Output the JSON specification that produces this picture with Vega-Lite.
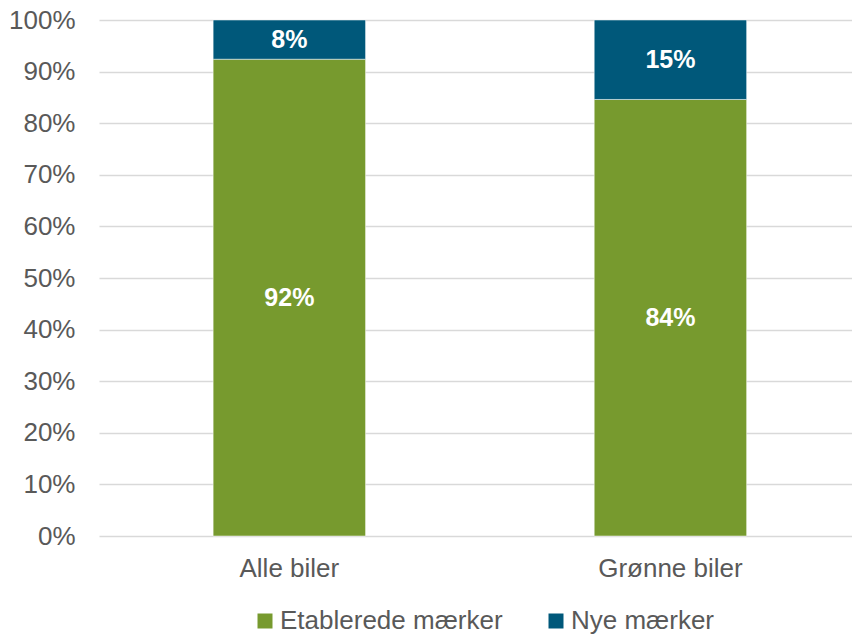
{
  "$schema": "https://vega.github.io/schema/vega-lite/v6.json",
  "width": 753,
  "height": 516,
  "autosize": {"type": "none"},
  "padding": {"left": 99, "top": 20, "right": 0, "bottom": 101},
  "background": "white",
  "config": {
    "view": {"stroke": null},
    "font": "Liberation Sans",
    "axis": {"labelFont": "Liberation Sans", "labelColor": "#595959", "labelFontSize": 26}
  },
  "data": {
    "values": [
      {"kategori": "Alle biler", "maerke": "Etablerede mærker", "andel": 0.924, "label": "92%"},
      {"kategori": "Alle biler", "maerke": "Nye mærker", "andel": 0.076, "label": "8%"},
      {"kategori": "Grønne biler", "maerke": "Etablerede mærker", "andel": 0.846, "label": "84%"},
      {"kategori": "Grønne biler", "maerke": "Nye mærker", "andel": 0.154, "label": "15%"}
    ]
  },
  "encoding": {
    "x": {
      "field": "kategori",
      "type": "nominal",
      "sort": ["Alle biler", "Grønne biler"],
      "scale": {"paddingInner": 0.6, "paddingOuter": 0.288, "align": 0.52},
      "axis": {"title": null, "labelAngle": 0, "ticks": false, "domain": false, "labelPadding": 19, "grid": false}
    }
  },
  "layer": [
    {
      "mark": {"type": "bar", "stroke": "white", "strokeWidth": 0.5},
      "encoding": {
        "y": {
          "field": "andel",
          "type": "quantitative",
          "stack": "zero",
          "scale": {"domain": [0, 1], "nice": false},
          "axis": {
            "title": null,
            "format": ".0%",
            "values": [0, 0.1, 0.2, 0.3, 0.4, 0.5, 0.6, 0.7, 0.8, 0.9, 1],
            "ticks": false,
            "domain": false,
            "labelPadding": 24,
            "gridColor": "#d9d9d9",
            "gridWidth": 1.5
          }
        },
        "color": {
          "field": "maerke",
          "type": "nominal",
          "scale": {"domain": ["Etablerede mærker", "Nye mærker"], "range": ["#779A2E", "#00587A"]},
          "legend": {
            "title": null,
            "orient": "none",
            "direction": "horizontal",
            "legendX": 153,
            "legendY": 588,
            "symbolType": "square",
            "symbolSize": 225,
            "symbolStrokeWidth": 0,
            "labelFontSize": 26,
            "labelColor": "#595959",
            "labelFont": "Liberation Sans",
            "labelOffset": 2,
            "columnPadding": 40,
            "labelLimit": 400
          }
        },
        "order": {"field": "maerke", "type": "nominal", "sort": "ascending"}
      }
    },
    {
      "mark": {"type": "text", "color": "white", "fontWeight": "bold", "fontSize": 25, "font": "Liberation Sans", "baseline": "middle"},
      "encoding": {
        "y": {"field": "andel", "type": "quantitative", "stack": "zero", "bandPosition": 0.5},
        "text": {"field": "label", "type": "nominal"},
        "order": {"field": "maerke", "type": "nominal", "sort": "ascending"},
        "detail": {"field": "maerke", "type": "nominal"}
      }
    }
  ]
}
